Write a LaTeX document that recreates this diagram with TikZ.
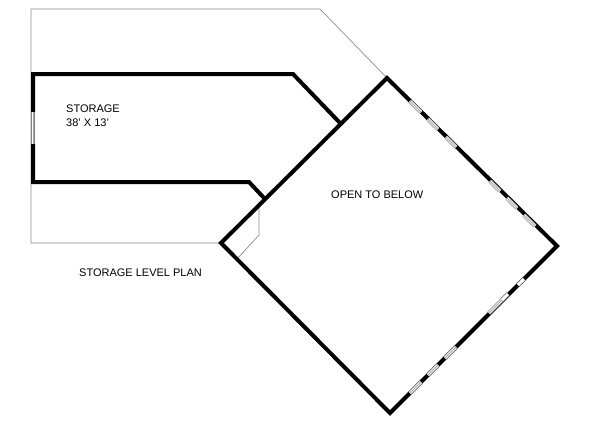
\documentclass[tikz,border=0pt]{standalone}
\usepackage{fontspec}
\setmainfont{Liberation Sans}
\tikzset{
    wallline/.style={line width=4pt,line cap=butt,line join=miter},
    roofline/.style={line width=0.7pt,black!45},
    glazing/.style={line width=4pt,black!50,postaction={draw,white,line width=2.6pt},postaction={draw,black!35,line width=0.8pt}},
    clearpane/.style={line width=4.4pt,black!60,postaction={draw,white,line width=3pt}},
    roomlabel/.style={inner sep=0pt,font=\fontsize{11}{14}\selectfont,align=left,text=black}
}
\begin{document}
\begin{tikzpicture}[x=1pt,y=-1pt]
                \useasboundingbox (0,0) rectangle (600,445);
                % corners of the open area
                \coordinate (top) at (387,78);
                \coordinate (right) at (557,246);
                \coordinate (bottom) at (390,413);
                \coordinate (left) at (221,243);
                \coordinate (upperjoin) at (341,124);
                \coordinate (lowerjoin) at (265,199);
                % thin outline of the roof
                \draw[roofline] (left) -- (31,243) -- (31,9) -- (320,9) -- (top);
                \draw[roofline] (259,206) -- (259,235) -- (237,259);
                % storage walls
                \draw[wallline] (upperjoin) -- (293,74) -- (33,74) -- (33,112);
                \draw[wallline] (33,144) -- (33,182) -- (249,182) -- (lowerjoin);
                \draw[glazing] (33,112) -- (33,144);
                % open area walls
                \draw[wallline] (top) -- (right) -- (bottom) -- (left) -- cycle;
                % north east windows
                \foreach \xa/\ya/\xb/\yb in {410/101/421/112,428/119/438/129,446/137/456/147,490/181/500/191,507/198/517/208,524/215/535/226}
                    \draw[glazing] (\xa,\ya) -- (\xb,\yb);
                % south east windows
                \foreach \xa/\ya/\xb/\yb in {489/313/502/300,445/358/456/347,428/375/438/365,410/393/421/382}
                    \draw[glazing] (\xa,\ya) -- (\xb,\yb);
                \foreach \xa/\ya/\xb/\yb in {502/300/508/294,518/285/524/279}
                    \draw[clearpane] (\xa,\ya) -- (\xb,\yb);
                \node[roomlabel,anchor=west] (storage) at (66,116) {STORAGE\\38' X 13'};
                \node[roomlabel,anchor=west] (open) at (331,194.5) {OPEN TO BELOW};
                \node[roomlabel,anchor=west] (plan) at (79,273) {STORAGE LEVEL PLAN};
            \end{tikzpicture}
\end{document}
